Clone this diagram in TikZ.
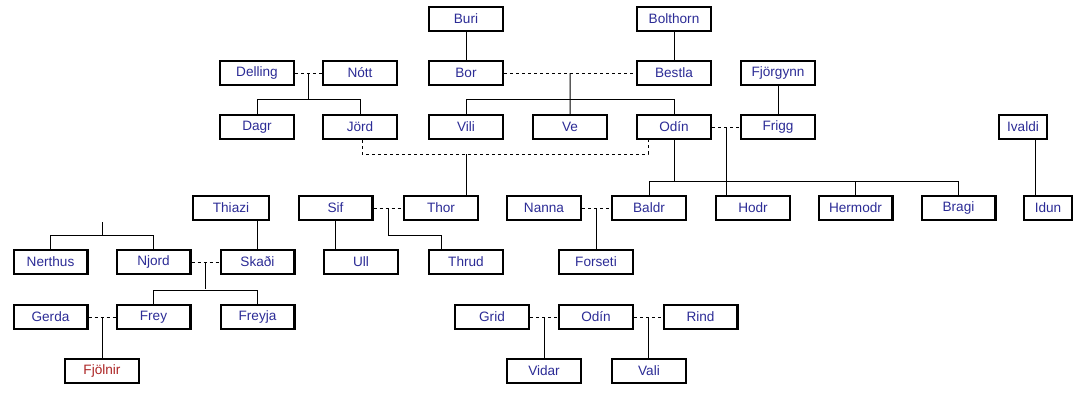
\documentclass[tikz,border=0pt]{standalone}
\usepackage{fontspec}
\setmainfont{Liberation Sans}
\usetikzlibrary{calc}
\definecolor{nameblue}{RGB}{44,44,150}
\definecolor{namered}{RGB}{172,36,36}
\tikzset{
  person/.style={draw=black, line width=2.2pt, fill=white, rectangle,
    minimum width=73.8pt, minimum height=23.8pt, inner sep=0pt,
    text=nameblue, font=\fontsize{13.6}{15}\selectfont},
  narrow/.style={minimum width=47.8pt},
  kin/.style={line width=1pt, black},
  wed/.style={line width=1pt, black, dash pattern=on 3pt off 3pt},
}
\begin{document}
\begin{tikzpicture}[x=1pt, y=-1pt]
\useasboundingbox (0,0) rectangle (1082,415);
% row 1
\node[person] (Buri) at (466,19) {Buri};
\node[person] (Bolthorn) at (674,19) {Bolthorn};
% row 2
\node[person] (Delling) at (257,73) {Delling};
\node[person] (Nott) at (360,73) {Nótt};
\node[person] (Bor) at (466,73) {Bor};
\node[person] (Bestla) at (674,73) {Bestla};
\node[person] (Fjorgynn) at (778,73) {Fjörgynn};
% row 3
\node[person] (Dagr) at (257,127) {Dagr};
\node[person] (Jord) at (360,127) {Jörd};
\node[person] (Vili) at (466,127) {Vili};
\node[person] (Ve) at (570,127) {Ve};
\node[person] (Odin) at (674,127) {Odín};
\node[person] (Frigg) at (778,127) {Frigg};
\node[person, narrow] (Ivaldi) at (1023,127) {Ivaldi};
% row 4
\node[person, minimum width=75.8pt] (Thiazi) at (231,208) {Thiazi};
\node[person] (Sif) at (335.5,208) {Sif};
\node[person] (Thor) at (441,208) {Thor};
\node[person] (Nanna) at (544,208) {Nanna};
\node[person] (Baldr) at (649,208) {Baldr};
\node[person] (Hodr) at (753,208) {Hodr};
\node[person] (Hermodr) at (855.5,208) {Hermodr};
\node[person] (Bragi) at (958.5,208) {Bragi};
\node[person, narrow] (Idun) at (1048,208) {Idun};
% row 5
\node[person] (Nerthus) at (50.5,262) {Nerthus};
\node[person] (Njord) at (153.5,262) {Njord};
\node[person] (Skadi) at (257.5,262) {Skaði};
\node[person] (Ull) at (361,262) {Ull};
\node[person] (Thrud) at (466,262) {Thrud};
\node[person] (Forseti) at (596,262) {Forseti};
% row 6
\node[person] (Gerda) at (50.5,317) {Gerda};
\node[person] (Frey) at (153.5,317) {Frey};
\node[person] (Freyja) at (257.5,317) {Freyja};
\node[person] (Grid) at (492,317) {Grid};
\node[person] (OdinB) at (596,317) {Odín};
\node[person] (Rind) at (700.5,317) {Rind};
% row 7
\node[person, text=namered] (Fjolnir) at (102,371) {Fjölnir};
\node[person] (Vidar) at (544,371) {Vidar};
\node[person] (Vali) at (649,371) {Vali};

% couple mid points
\coordinate (bb) at ($(Bor.east)!.5!(Bestla.west)$);
\coordinate (dn) at ($(Delling.east)!.5!(Nott.west)$);
\coordinate (of) at ($(Odin.east)!.5!(Frigg.west)$);
\coordinate (st) at ($(Sif.east)!.5!(Thor.west)$);
\coordinate (nb) at ($(Nanna.east)!.5!(Baldr.west)$);
\coordinate (ns) at ($(Njord.east)!.5!(Skadi.west)$);
\coordinate (gf) at ($(Gerda.east)!.5!(Frey.west)$);
\coordinate (go) at ($(Grid.east)!.5!(OdinB.west)$);
\coordinate (orr) at ($(OdinB.east)!.5!(Rind.west)$);
\coordinate (jo) at (466,154);
\coordinate (orph) at (102,222);

% parent lines
\draw[kin] (Buri.south) -- (Bor.north);
\draw[kin] (Bolthorn.south) -- (Bestla.north);
\draw[kin] (Fjorgynn.south) -- (Frigg.north);
\draw[kin] ([xshift=12pt]Ivaldi.south) -- ([xshift=-13pt]Idun.north);
\draw[kin] (Skadi.north |- Thiazi.south) -- (Skadi.north);
\draw[kin] (Sif.south) -- (Sif.south |- Ull.north);

% Bor + Bestla
\draw[wed] (Bor.east) -- (Bestla.west);
\draw[kin] (bb) -- (Ve.north);
\draw[kin] (Vili.north) -- ++(0,-15) -| (Odin.north);

% Delling + Nott
\draw[wed] (Delling.east) -- (Nott.west);
\draw[kin] (dn) -- ++(0,26);
\draw[kin] (Dagr.north) -- ++(0,-15) -| (Jord.north);

% Jord + Odin
\draw[wed] ([xshift=2pt]Jord.south) -- ++(0,14) -| ([xshift=-26pt]Odin.south);
\draw[kin] (jo) -- (jo |- Thor.north);

% Odin + Frigg
\draw[wed] (Odin.east) -- (Frigg.west);
\draw[kin] (of) -- (of |- Hodr.north);
\draw[kin] (Odin.south) -- ++(0,41);
\draw[kin] (Baldr.north) -- ++(0,-14) -| (Bragi.north);
\draw[kin] (Hermodr.north) -- ++(0,-14);

% Sif + Thor
\draw[wed] (Sif.east) -- (Thor.west);
\draw[kin] (st) -- ++(0,27) -| ([xshift=-25pt]Thrud.north);

% Nanna + Baldr
\draw[wed] (Nanna.east) -- (Baldr.west);
\draw[kin] (nb) -- (nb |- Forseti.north);

% unnamed parents of Nerthus and Njord
\draw[kin] (orph) -- ++(0,13);
\draw[kin] (Nerthus.north) -- ++(0,-14) -| (Njord.north);

% Njord + Skadi
\draw[wed] (Njord.east) -- (Skadi.west);
\draw[kin] (ns) -- ++(0,27);
\draw[kin] (Frey.north) -- ++(0,-14) -| (Freyja.north);

% Gerda + Frey
\draw[wed] (Gerda.east) -- (Frey.west);
\draw[kin] (gf) -- (gf |- Fjolnir.north);

% Grid + Odin, Odin + Rind
\draw[wed] (Grid.east) -- (OdinB.west);
\draw[kin] (go) -- (go |- Vidar.north);
\draw[wed] (OdinB.east) -- (Rind.west);
\draw[kin] (orr) -- (orr |- Vali.north);
\end{tikzpicture}
\end{document}
